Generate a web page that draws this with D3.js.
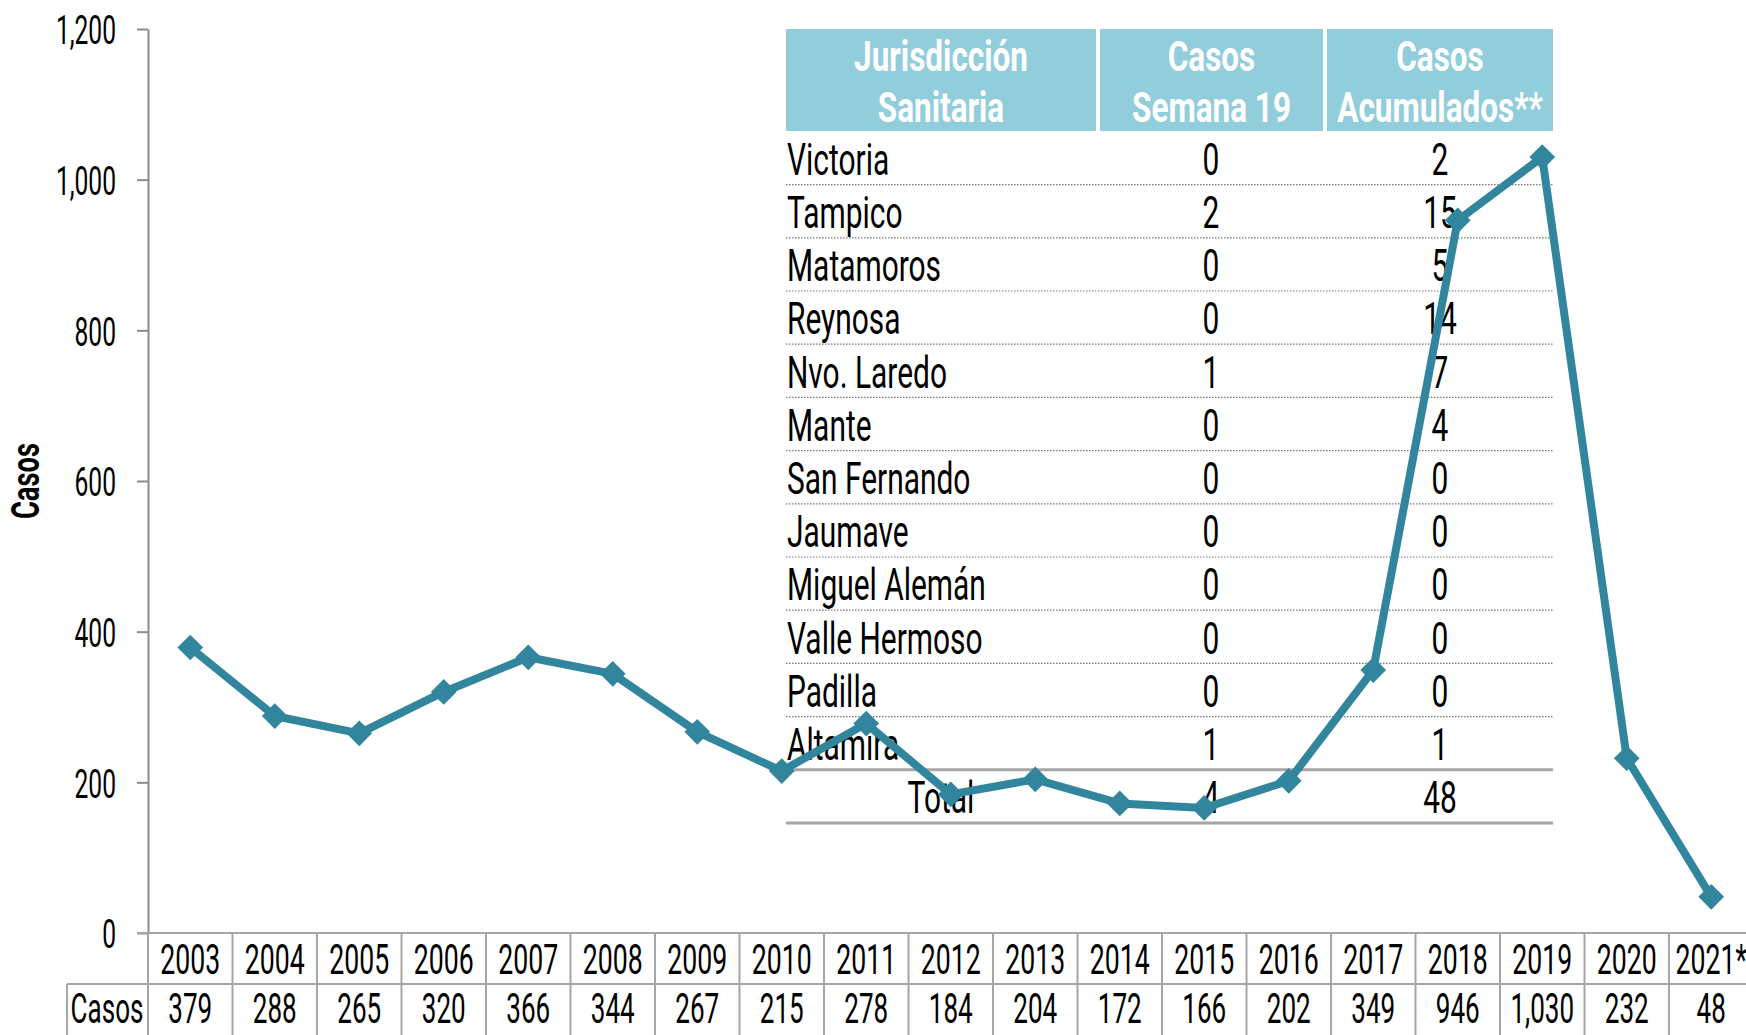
<html>
<head>
  <meta charset="utf-8">
  <script src="https://d3js.org/d3.v7.min.js"></script>
  <style>
    body {
      background-color: white;
      margin: 0;
      padding: 0;
      overflow: hidden;
    }
    svg text {
      font-family: Roboto, "DejaVu Sans", sans-serif;
    }
  </style>
</head>
<body>
  <svg width="1746" height="1035"></svg>

  <script>
    // chart data
    const years = ["2003", "2004", "2005", "2006", "2007", "2008", "2009", "2010", "2011", "2012",
                   "2013", "2014", "2015", "2016", "2017", "2018", "2019", "2020", "2021*"];
    const casos = [379, 288, 265, 320, 366, 344, 267, 215, 278, 184, 204, 172, 166, 202, 349, 946, 1030, 232, 48];
    const yTicks = [0, 200, 400, 600, 800, 1000, 1200];

    // inset table data
    const headers = [["Jurisdicción", "Sanitaria"], ["Casos", "Semana 19"], ["Casos", "Acumulados**"]];
    const jurisdicciones = ["Victoria", "Tampico", "Matamoros", "Reynosa", "Nvo. Laredo", "Mante",
                            "San Fernando", "Jaumave", "Miguel Alemán", "Valle Hermoso", "Padilla", "Altamira"];
    const semana19 = [0, 2, 0, 0, 1, 0, 0, 0, 0, 0, 0, 1];
    const acumulados = [2, 15, 5, 14, 7, 4, 0, 0, 0, 0, 0, 1];
    const totalSemana = 4, totalAcum = 48;

    const svg = d3.select("svg");
    const lineColor = "#31869d",
          gridColor = "#a6a6a6",
          headFill = "#92cddc";

    // condensed-looking text: scale glyphs horizontally
    function ctext(parent, x, y, str, opt) {
      opt = opt || {};
      const k = opt.k || 0.62;
      return parent.append("text")
        .attr("transform", "translate(" + x + "," + y + ")" + (opt.rotate ? " rotate(" + opt.rotate + ")" : "") + " scale(" + k + ",1)")
        .attr("dy", "0.36em")
        .attr("text-anchor", opt.anchor || "middle")
        .attr("font-size", opt.size || 43)
        .attr("font-weight", opt.weight || 400)
        .attr("fill", opt.fill || "black")
        .text(str);
    }

    const bandW = 84.5;
    const xScale = d3.scaleBand()
        .domain(years)
        .range([148, 148 + years.length * bandW])
        .padding(0);

    const yScale = d3.scaleLinear()
        .domain([0, 1200])
        .range([933, 29]);

    // y axis
    const yAxis = d3.axisLeft(yScale)
        .tickValues(yTicks)
        .tickSize(11)
        .tickSizeOuter(0)
        .tickFormat(d3.format(","));

    const gy = svg.append("g")
        .attr("transform", "translate(148,0)")
        .call(yAxis);
    gy.select(".domain").attr("stroke", "#8c8c8c").attr("stroke-width", 2);
    gy.selectAll(".tick line").attr("stroke", "#8c8c8c").attr("stroke-width", 2);
    gy.selectAll(".tick text")
        .attr("x", -32 / 0.6)
        .attr("dy", "0.36em")
        .attr("transform", "scale(0.6,1)")
        .attr("font-size", 41)
        .attr("font-family", "Roboto, sans-serif")
        .attr("fill", "black");

    // y axis title
    ctext(svg, 25, 481, "Casos", { rotate: -90, size: 38, weight: 700, k: 0.72 });

    // data table under the x axis
    const tbl = svg.append("g");
    const xEnd = xScale.range()[1];
    tbl.append("line").attr("x1", 137).attr("x2", xEnd).attr("y1", 933).attr("y2", 933)
        .attr("stroke", gridColor).attr("stroke-width", 2);
    tbl.append("line").attr("x1", 67).attr("x2", xEnd).attr("y1", 984).attr("y2", 984)
        .attr("stroke", gridColor).attr("stroke-width", 2);
    tbl.append("line").attr("x1", 67).attr("x2", 67).attr("y1", 984).attr("y2", 1035)
        .attr("stroke", gridColor).attr("stroke-width", 2);
    tbl.selectAll(".vline")
      .data(years.concat(["end"]))
      .enter().append("line")
        .attr("class", "vline")
        .attr("x1", d => d === "end" ? xEnd : xScale(d))
        .attr("x2", d => d === "end" ? xEnd : xScale(d))
        .attr("y1", 933)
        .attr("y2", 1035)
        .attr("stroke", gridColor)
        .attr("stroke-width", 2);

    years.forEach((yr, i) => {
      const cx = xScale(yr) + xScale.bandwidth() / 2;
      ctext(tbl, cx, 959, yr, { size: 43 });
      ctext(tbl, cx, 1008, d3.format(",")(casos[i]), { size: 42 });
    });
    ctext(tbl, 107, 1008, "Casos", { size: 42 });

    // inset table
    const inset = svg.append("g");
    const cols = [[786, 1096], [1100, 1323], [1327, 1553]];
    const rowH = 53.2, firstRow = 159;

    cols.forEach((c, i) => {
      inset.append("rect")
        .attr("x", c[0]).attr("y", 29)
        .attr("width", c[1] - c[0]).attr("height", 102)
        .attr("fill", headFill);
      const cx = (c[0] + c[1]) / 2;
      ctext(inset, cx, 56, headers[i][0], { size: 42, weight: 700, fill: "white", k: 0.75 });
      ctext(inset, cx, 107, headers[i][1], { size: 42, weight: 700, fill: "white", k: 0.75 });
    });

    jurisdicciones.forEach((name, i) => {
      const cy = firstRow + i * rowH;
      ctext(inset, 787, cy, name, { anchor: "start", size: 44, k: 0.68 });
      ctext(inset, 1211, cy, semana19[i], { size: 44, k: 0.68 });
      ctext(inset, 1440, cy, acumulados[i], { size: 44, k: 0.68 });
      const ly = cy + rowH / 2 - 1;
      if (i < jurisdicciones.length - 1) {
        inset.append("line")
          .attr("x1", 786).attr("x2", 1553).attr("y1", ly).attr("y2", ly)
          .attr("stroke", "#777").attr("stroke-width", 1.2)
          .attr("stroke-dasharray", "1.5,1.5");
      } else {
        inset.append("line")
          .attr("x1", 786).attr("x2", 1553).attr("y1", ly).attr("y2", ly)
          .attr("stroke", gridColor).attr("stroke-width", 3);
      }
    });
    const totY = firstRow + jurisdicciones.length * rowH;
    ctext(inset, 941, totY, "Total", { size: 44, k: 0.68 });
    ctext(inset, 1211, totY, totalSemana, { size: 44, k: 0.68 });
    ctext(inset, 1440, totY, totalAcum, { size: 44, k: 0.68 });
    inset.append("line")
      .attr("x1", 786).attr("x2", 1553).attr("y1", totY + rowH / 2 - 1).attr("y2", totY + rowH / 2 - 1)
      .attr("stroke", gridColor).attr("stroke-width", 3);

    // the line and markers
    const pts = years.map((yr, i) => ({ year: yr, value: casos[i] }));
    const line = d3.line()
        .x(d => xScale(d.year) + xScale.bandwidth() / 2)
        .y(d => yScale(d.value));

    svg.append("path")
        .datum(pts)
        .attr("fill", "none")
        .attr("stroke", lineColor)
        .attr("stroke-width", 8)
        .attr("stroke-linejoin", "round")
        .attr("d", line);

    svg.selectAll(".marker")
      .data(pts)
      .enter().append("path")
        .attr("class", "marker")
        .attr("d", d3.symbol(d3.symbolSquare, 330))
        .attr("transform", d => "translate(" + (xScale(d.year) + xScale.bandwidth() / 2) + "," + yScale(d.value) + ") rotate(45)")
        .attr("fill", lineColor);
  </script>
</body>
</html>
